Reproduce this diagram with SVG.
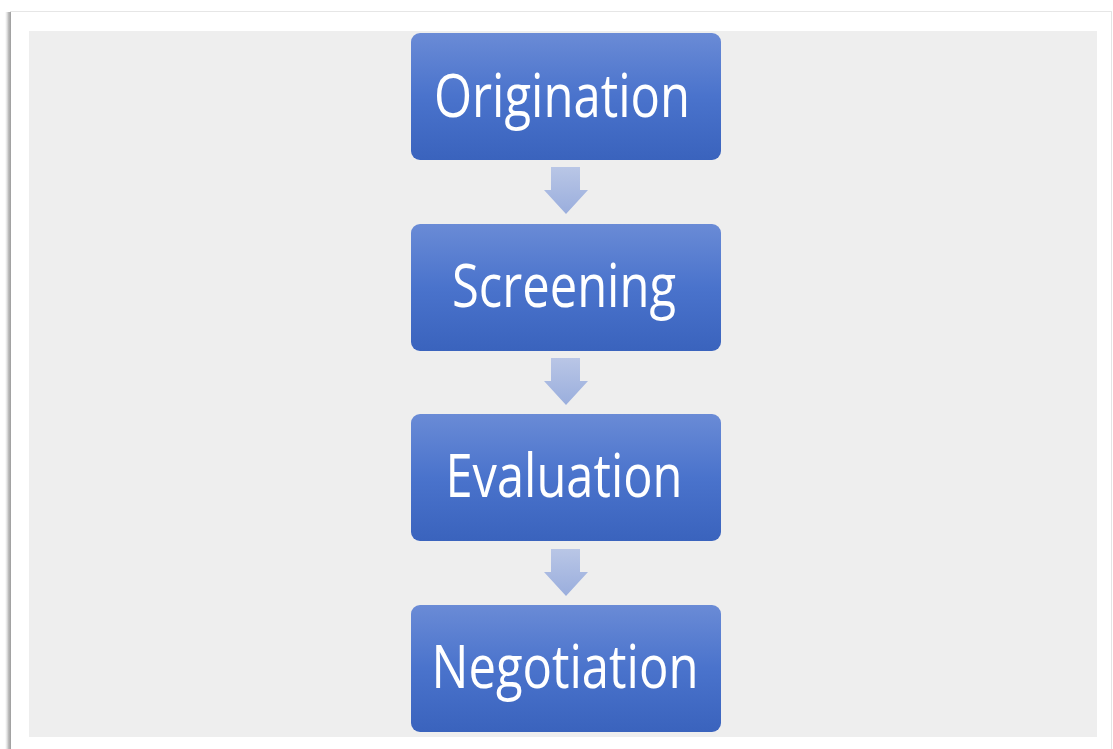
<svg xmlns="http://www.w3.org/2000/svg" width="1113" height="749" viewBox="0 0 1113 749">
  <defs>
    <linearGradient id="boxFill" x1="0" y1="0" x2="0" y2="1">
      <stop offset="0" stop-color="#6a8bd6"/>
      <stop offset="0.5" stop-color="#4a73cc"/>
      <stop offset="1" stop-color="#3a63bd"/>
    </linearGradient>
    <linearGradient id="arrowFill" x1="0" y1="0" x2="0" y2="1">
      <stop offset="0" stop-color="#b9c6e6"/>
      <stop offset="1" stop-color="#9aaedd"/>
    </linearGradient>
    <linearGradient id="edgeShade" x1="0" y1="0" x2="1" y2="0">
      <stop offset="0" stop-color="#d8d8d8" stop-opacity="0"/>
      <stop offset="0.6" stop-color="#bbbbbb"/>
      <stop offset="1" stop-color="#9c9c9c"/>
    </linearGradient>
    <path id="downArrow" d="M-15,0 H14 V23 H22 L0,47 L-22,23 H-15 Z"/>
  </defs>
  <style>
    .box { fill: url(#boxFill); }
    .label { font-family: "Open Sans", "Noto Sans", sans-serif; font-size: 61px; fill: #ffffff; text-anchor: middle; }
    .arrow { fill: url(#arrowFill); }
  </style>

  <!-- page background and card -->
  <rect x="0" y="0" width="1113" height="749" fill="#ffffff"/>
  <rect x="5" y="12" width="6" height="737" fill="url(#edgeShade)"/>
  <rect x="10" y="11" width="1102" height="1" fill="#e6e6e6"/>
  <rect x="1111" y="12" width="1" height="737" fill="#e4e4e4"/>
  <rect x="11" y="12" width="1100" height="737" fill="#ffffff"/>
  <rect x="29" y="31" width="1068" height="706" fill="#eeeeee"/>

  <!-- connectors -->
  <g id="connectors">
    <use href="#downArrow" class="arrow" x="566" y="167"/>
    <use href="#downArrow" class="arrow" x="566" y="358"/>
    <use href="#downArrow" class="arrow" x="566" y="549"/>
  </g>

  <g id="origination">
    <rect class="box" x="411" y="33" width="310" height="127" rx="9"/>
    <text class="label" x="562" y="117" textLength="256" lengthAdjust="spacingAndGlyphs">Origination</text>
  </g>
  <g id="screening">
    <rect class="box" x="411" y="224" width="310" height="127" rx="9"/>
    <text class="label" x="564" y="307" textLength="224" lengthAdjust="spacingAndGlyphs">Screening</text>
  </g>
  <g id="evaluation">
    <rect class="box" x="411" y="414" width="310" height="127" rx="9"/>
    <text class="label" x="564" y="497" textLength="237" lengthAdjust="spacingAndGlyphs">Evaluation</text>
  </g>
  <g id="negotiation">
    <rect class="box" x="411" y="605" width="310" height="127" rx="9"/>
    <text class="label" x="565" y="688" textLength="267" lengthAdjust="spacingAndGlyphs">Negotiation</text>
  </g>
</svg>
